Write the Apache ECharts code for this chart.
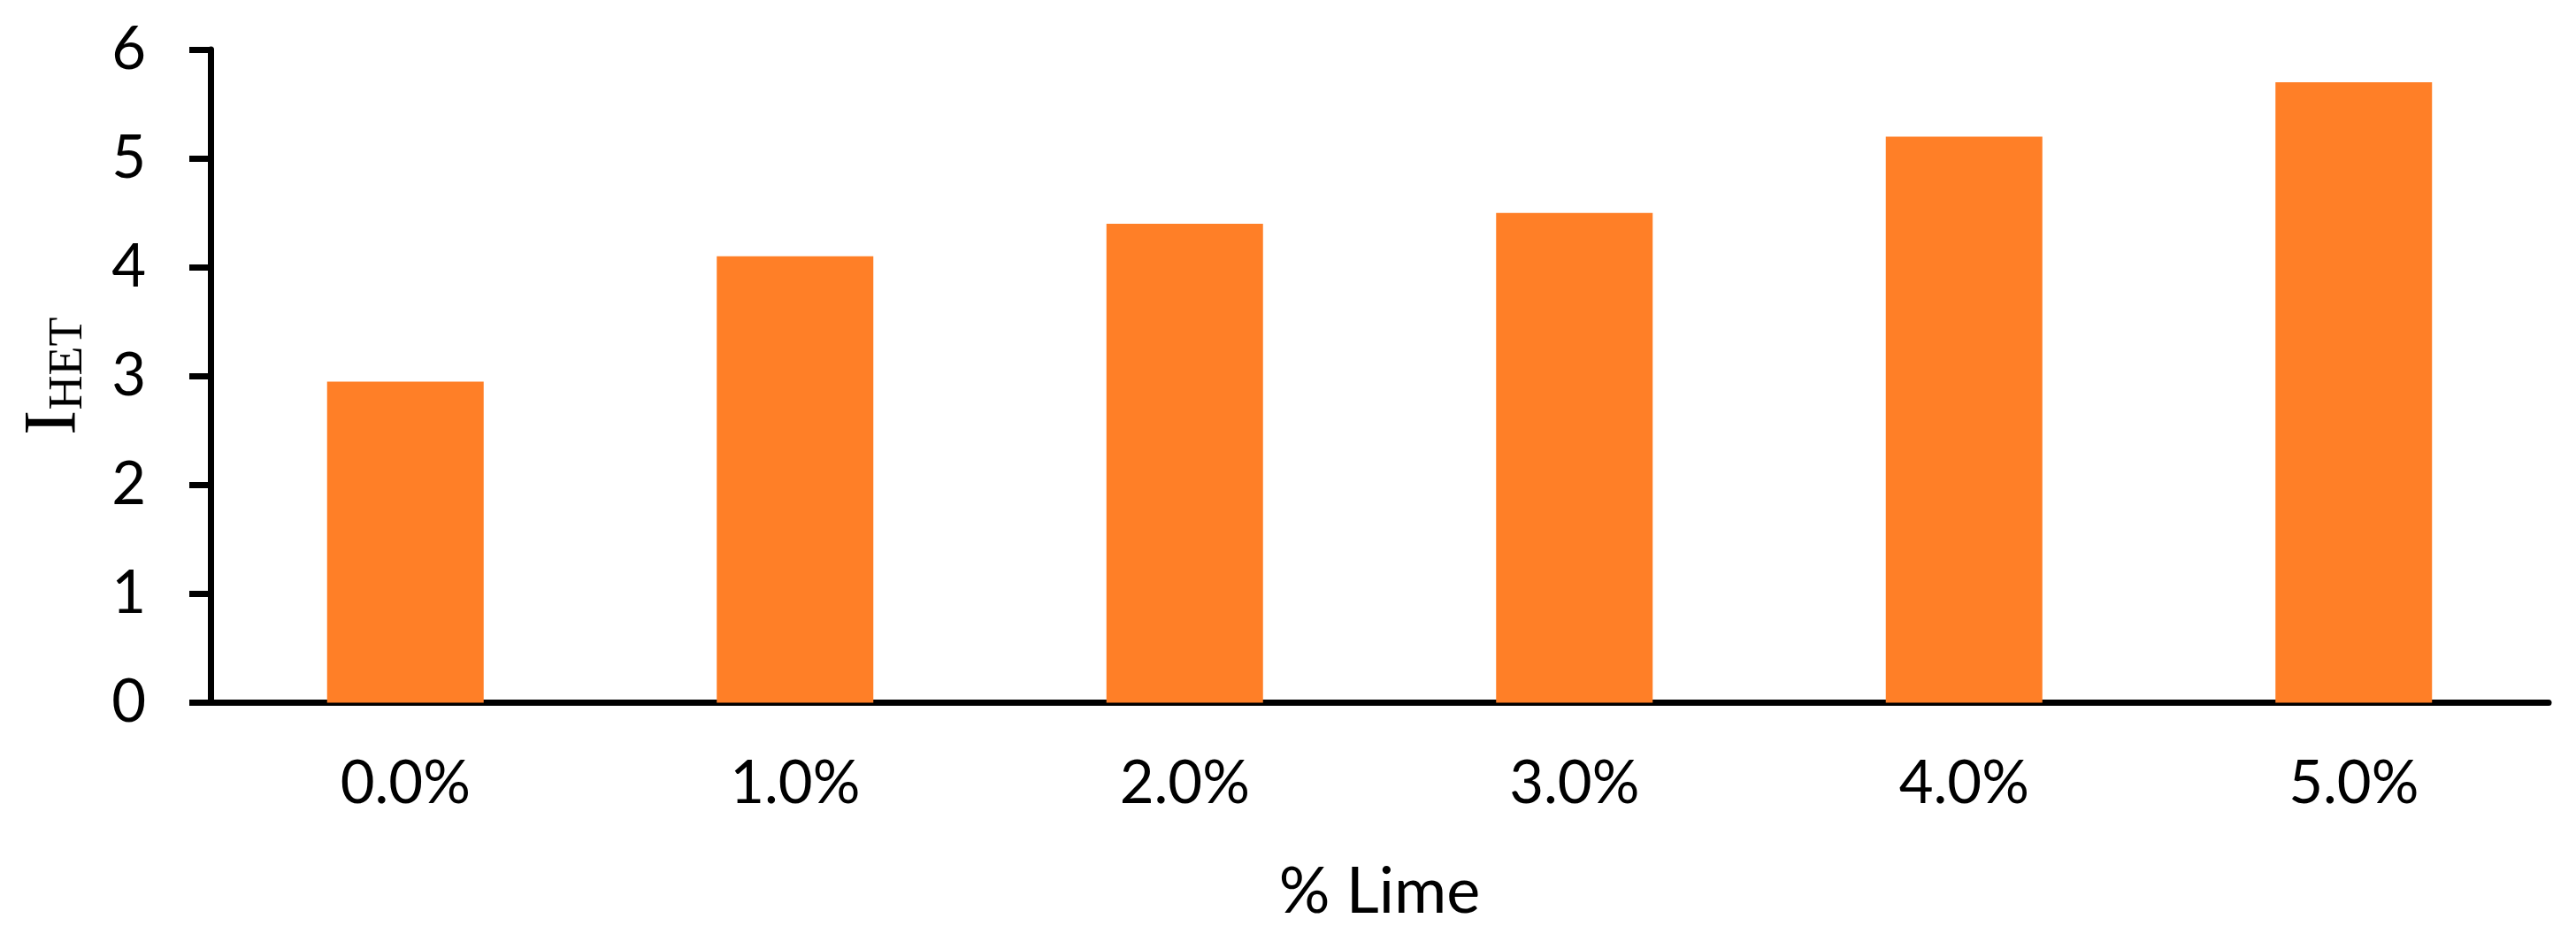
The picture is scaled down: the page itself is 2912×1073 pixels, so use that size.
<!DOCTYPE html>
<html>
<head>
<meta charset="utf-8">
<script src="https://cdn.jsdelivr.net/npm/echarts@6/dist/echarts.min.js"></script>
<style>
html,body{margin:0;padding:0;background:#fff;}
#chart{width:2912px;height:1073px;}
</style>
</head>
<body>
<div id="chart"></div>
<script>
const categories = ['0.0%', '1.0%', '2.0%', '3.0%', '4.0%', '5.0%'];
const ihetValues = [2.95, 4.1, 4.4, 4.5, 5.2, 5.7];
const yTicks = [0, 1, 2, 3, 4, 5, 6];
const xAxisTitle = '% Lime';
const yAxisTitleMain = 'I';
const yAxisTitleSub = 'HET';

const chart = echarts.init(document.getElementById('chart'), null, {renderer: 'canvas'});
const labelFont = 'Lato';
chart.setOption({
  animation: false,
  backgroundColor: '#ffffff',
  grid: {left: 238, right: 31, top: 56, bottom: 278.5, containLabel: false},
  xAxis: {
    type: 'category',
    data: categories,
    name: xAxisTitle,
    nameLocation: 'middle',
    nameGap: 178,
    nameTextStyle: {fontFamily: labelFont, fontSize: 72, color: '#000'},
    axisLine: {show: true, lineStyle: {color: '#000', width: 7}},
    axisTick: {show: false},
    axisLabel: {fontFamily: labelFont, fontSize: 67, color: '#000', margin: 58},
    splitLine: {show: false}
  },
  yAxis: {
    type: 'value',
    min: yTicks[0],
    max: yTicks[yTicks.length - 1],
    interval: 1,
    name: '{a|' + yAxisTitleMain + '}{b|' + yAxisTitleSub + '}',
    nameLocation: 'middle',
    nameGap: 133,
    nameTextStyle: {
      rich: {
        a: {fontFamily: 'Liberation Serif', fontSize: 85, color: '#000', lineHeight: 85, verticalAlign: 'bottom'},
        b: {fontFamily: 'Liberation Serif', fontSize: 54, color: '#000', lineHeight: 25, verticalAlign: 'bottom'}
      }
    },
    axisLine: {show: true, lineStyle: {color: '#000', width: 7}},
    axisTick: {show: true, inside: false, length: 24, lineStyle: {color: '#000', width: 7}},
    axisLabel: {fontFamily: labelFont, fontSize: 67, color: '#000', margin: 73},
    splitLine: {show: false}
  },
  series: [{
    type: 'bar',
    data: ihetValues,
    barWidth: 177,
    itemStyle: {color: '#FF7F27'}
  }]
});
</script>
</body>
</html>
